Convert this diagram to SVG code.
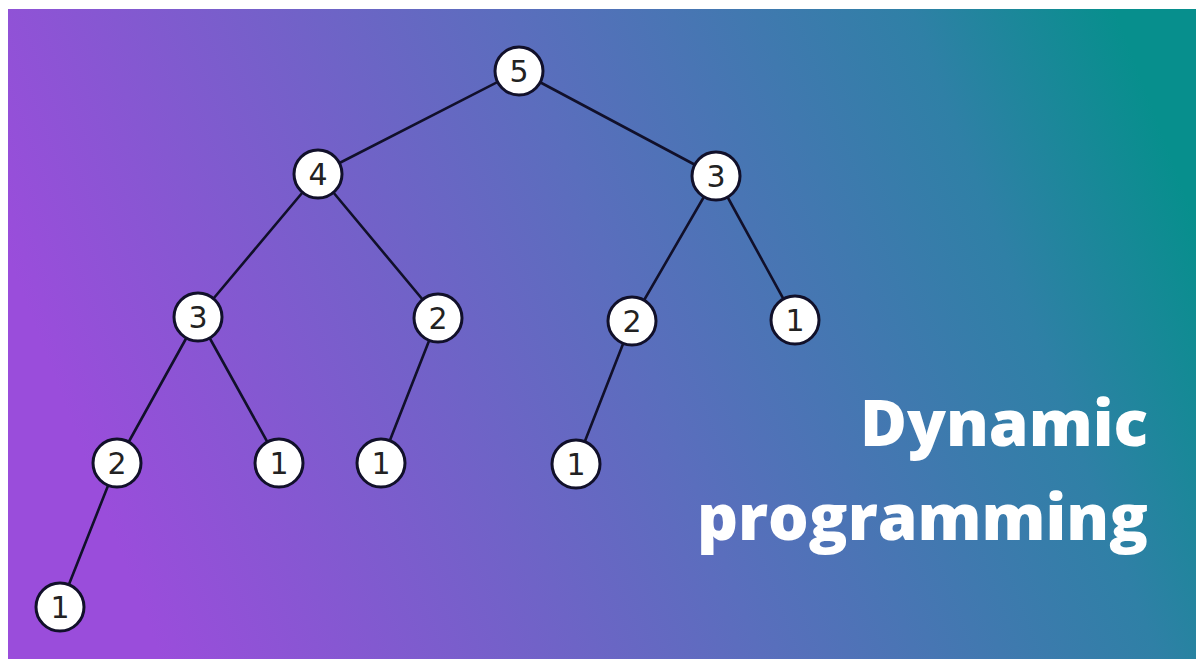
<svg xmlns="http://www.w3.org/2000/svg" width="1196" height="659" viewBox="0 0 1196 659">
  <defs>
    <linearGradient id="bg" gradientUnits="userSpaceOnUse" x1="100" y1="500" x2="1150" y2="100">
      <stop offset="0" stop-color="#9a4ddb"/>
      <stop offset="0.5" stop-color="#5a6ebd"/>
      <stop offset="0.83" stop-color="#2f80a6"/>
      <stop offset="1" stop-color="#078f8d"/>
    </linearGradient>
    <style>
      .edge { stroke: #11102a; stroke-width: 2.6; fill: none; stroke-linecap: round; }
      .node circle { fill: #ffffff; stroke: #11102a; stroke-width: 3; }
      .node text { font-family: "DejaVu Sans", sans-serif; font-size: 30px; fill: #222222; text-anchor: middle; dominant-baseline: central; }
      .title { font-family: "Open Sans", sans-serif; font-weight: 800; font-size: 64px; fill: #ffffff; text-anchor: end; }
    </style>
  </defs>

  <rect x="0" y="0" width="1196" height="659" fill="#ffffff"/>
  <rect x="8" y="9" width="1188" height="650" fill="url(#bg)"/>

  <g id="connectors">
    <line class="edge" x1="519" y1="71" x2="318" y2="174"/>
    <line class="edge" x1="519" y1="71" x2="716" y2="176"/>
    <line class="edge" x1="318" y1="174" x2="198" y2="317"/>
    <line class="edge" x1="318" y1="174" x2="438" y2="318"/>
    <line class="edge" x1="716" y1="176" x2="632" y2="321"/>
    <line class="edge" x1="716" y1="176" x2="795" y2="320"/>
    <line class="edge" x1="198" y1="317" x2="117" y2="463"/>
    <line class="edge" x1="198" y1="317" x2="279" y2="463"/>
    <line class="edge" x1="438" y1="318" x2="381" y2="463"/>
    <line class="edge" x1="632" y1="321" x2="576" y2="464"/>
    <line class="edge" x1="117" y1="463" x2="60" y2="607"/>
  </g>

  <g id="n5" class="node"><circle cx="519" cy="71" r="24"/><text x="519" y="71">5</text></g>
  <g id="n4" class="node"><circle cx="318" cy="174" r="24"/><text x="318" y="174">4</text></g>
  <g id="n3r" class="node"><circle cx="716" cy="176" r="24"/><text x="716" y="176">3</text></g>
  <g id="n3l" class="node"><circle cx="198" cy="317" r="24"/><text x="198" y="317">3</text></g>
  <g id="n2a" class="node"><circle cx="438" cy="318" r="24"/><text x="438" y="318">2</text></g>
  <g id="n2b" class="node"><circle cx="632" cy="321" r="24"/><text x="632" y="321">2</text></g>
  <g id="n1a" class="node"><circle cx="795" cy="320" r="24"/><text x="795" y="320">1</text></g>
  <g id="n2c" class="node"><circle cx="117" cy="463" r="24"/><text x="117" y="463">2</text></g>
  <g id="n1b" class="node"><circle cx="279" cy="463" r="24"/><text x="279" y="463">1</text></g>
  <g id="n1c" class="node"><circle cx="381" cy="463" r="24"/><text x="381" y="463">1</text></g>
  <g id="n1d" class="node"><circle cx="576" cy="464" r="24"/><text x="576" y="464">1</text></g>
  <g id="n1e" class="node"><circle cx="60" cy="607" r="24"/><text x="60" y="607">1</text></g>

  <g id="title">
    <text class="title" x="1148" y="446">Dynamic</text>
    <text class="title" x="1148" y="540">programming</text>
  </g>
</svg>
